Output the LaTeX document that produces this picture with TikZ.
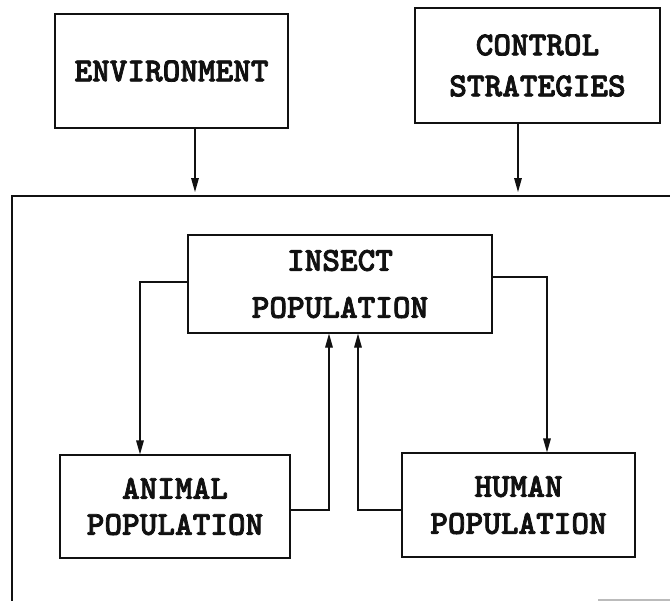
\documentclass[tikz,border=0pt]{standalone}
\usepackage{fontspec}
\newfontfamily\typebold{lmmonolt10-bold}[Extension=.otf,FakeBold=2.2]
\usetikzlibrary{arrows.meta,positioning,calc}
\definecolor{Ink}{HTML}{111111}
\definecolor{Paper}{HTML}{FFFFFF}
\definecolor{Scan}{HTML}{BBBBBB}

\begin{document}
\begin{tikzpicture}[x=0.5pt,y=-0.5pt,font=\typebold\fontsize{16.8}{20.5}\selectfont,every node/.style={text=Ink},popbox/.style={draw=Ink,line width=0.6pt,align=center,inner sep=0pt},flowarrow/.style={-{Triangle[length=7pt,width=3.8pt]},line width=0.6pt,draw=Ink}]
\fill[Paper] (0,0) rectangle (670,602);
\useasboundingbox (0,0) rectangle (670,602);
\node[popbox,minimum width=116.5pt,minimum height=57pt] (env) at (171.5,71) {ENVIRONMENT};
\node[popbox,minimum width=122.5pt,minimum height=57.5pt] (ctrl) at (537.5,65.5) {CONTROL\\STRATEGIES};
\node[popbox,minimum width=152pt,minimum height=49pt] (insect) at (340,284) {INSECT\\[3pt]POPULATION};
\node[popbox,minimum width=115pt,minimum height=51.5pt] (animal) at (175,506.5) {ANIMAL\\[-2.5pt]POPULATION};
\node[popbox,minimum width=116.5pt,minimum height=52pt] (human) at (518.5,505) {HUMAN\\[-2pt]POPULATION};
% open frame round the insect system
\coordinate (frameNE) at (670,196);
\coordinate (frameNW) at (12,196);
\coordinate (frameSW) at (12,601);
\draw[draw=Ink,line width=0.6pt] (frameNE) -- (frameNW) -- (frameSW);
\draw[draw=Scan,line width=0.6pt] (598,600) -- (670,600);
\coordinate (envin) at (195,192);
\coordinate (ctrlin) at (518,192);
\draw[flowarrow] (env.south -| envin) -- (envin);
\draw[flowarrow] (ctrl.south -| ctrlin) -- (ctrlin);
% feedback loops
\draw[flowarrow] (insect.west |- 0,282) -| (animal.north -| 140,0);
\draw[flowarrow] (insect.east |- 0,277) -| (human.north -| 547,0);
\draw[flowarrow] (animal.east |- 0,510) -| (insect.south -| 329,0);
\draw[flowarrow] (human.west |- 0,510) -| (insect.south -| 358,0);
\end{tikzpicture}
\end{document}
